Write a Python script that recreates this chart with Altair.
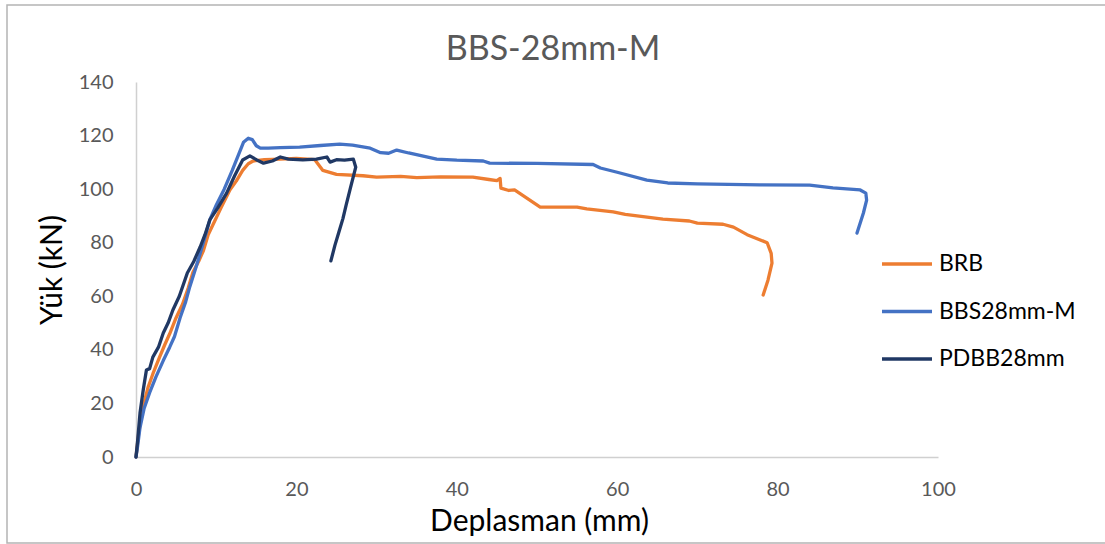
import altair as alt
import pandas as pd

brb_x = [0, 0.3, 0.5, 0.9, 1.5, 2.1, 2.9, 3.6, 4.2, 5.0, 5.8, 6.5, 7.1, 7.8, 8.4, 9.0, 9.8, 10.6, 11.7, 12.5,
         13.3, 14.0, 14.6, 16, 18, 20, 22.3, 23.3, 25, 28.3, 30, 33, 35, 38, 42, 44, 45, 45.4, 45.5, 46.5,
         47.2, 50.4, 55, 56.2, 59.5, 61, 65.7, 69, 70, 73.2, 74.5, 76.2, 78.7, 79.2, 79.3, 78.8, 78.2]
brb_y = [0, 8, 12, 19, 26, 31, 37, 42, 46, 52, 57, 63, 69, 73, 77, 83, 88, 93, 99.7, 103,
         107, 109.5, 110.5, 111, 111.2, 111.5, 111, 107, 105.5, 105, 104.5, 104.8, 104.3, 104.6, 104.5, 103.6, 103.2, 104, 100.4, 99.5,
         99.7, 93.3, 93.3, 92.6, 91.5, 90.6, 88.8, 88.1, 87.3, 86.9, 85.8, 83, 80, 76, 72.4, 66, 60.5]

bbs_x = [0, 0.2, 0.5, 1.0, 1.7, 2.5, 3.4, 4.2, 4.8, 5.5, 6.2, 6.7, 7.5, 8.3, 9.2, 10.0, 11.0, 12.0, 12.8, 13.4,
         14.0, 14.5, 15.0, 15.5, 16.5, 18, 20.4, 23, 25.4, 27, 29.2, 30.5, 31.5, 32.5, 34, 37.5, 40, 43.3, 44.1, 50,
         57, 57.9, 60, 63.7, 66.3, 70, 77.8, 84, 86.9, 90.3, 91.0, 91.1, 90.7, 89.9]
bbs_y = [0, 4, 11, 18, 24, 30, 36, 41, 45, 52, 58, 63.5, 71, 79, 88.5, 94, 100, 107, 113, 117.5,
         119, 118.5, 116.2, 115.3, 115.3, 115.5, 115.7, 116.3, 116.8, 116.4, 115.3, 113.6, 113.4, 114.6, 113.5, 111.2, 110.8, 110.5, 109.7, 109.6,
         109.2, 107.9, 106.3, 103.4, 102.3, 102, 101.6, 101.5, 100.5, 99.7, 98.5, 95.9, 91.1, 83.6]

pdbb_x = [0, 0.2, 0.5, 0.9, 1.3, 1.7, 2.1, 2.8, 3.4, 4.0, 4.6, 5.4, 6.4, 7.2, 8.0, 8.6, 9.2, 10.2, 11.3, 12.3,
          13.3, 14.2, 15.0, 15.9, 17, 18, 19, 20.8, 22.5, 23.8, 24.2, 25, 26, 27.1, 27.4, 26.7, 26.2, 25.8, 25.3, 24.8, 24.3]
pdbb_y = [0, 6, 16.4, 25, 32.5, 33, 37.3, 41, 46.3, 50, 54.9, 60, 68.7, 73, 78.4, 83, 88.5, 93, 98.5, 105,
          110.9, 112.4, 111, 109.7, 110.5, 112, 111.2, 110.9, 111.2, 112, 110.1, 111, 110.8, 111.2, 108.2, 100, 94, 89, 84, 79, 73.2]

series = ["BRB", "BBS28mm-M", "PDBB28mm"]
colors = ["#ED7D31", "#4472C4", "#203864"]
chart_title = "BBS-28mm-M"

rows = []
for name, xs, ys in [(series[0], brb_x, brb_y), (series[1], bbs_x, bbs_y), (series[2], pdbb_x, pdbb_y)]:
    for i, (a, b) in enumerate(zip(xs, ys)):
        rows.append({"s": name, "x": a, "y": b, "i": i})
df = pd.DataFrame(rows)

FONT = "Lato"

color = alt.Color(
    "s:N",
    scale=alt.Scale(domain=series, range=colors),
    legend=alt.Legend(
        title=None, orient="none", legendX=744, legendY=155,
        symbolType="stroke", symbolSize=2500, symbolStrokeWidth=3.5,
        labelFontSize=23, labelColor="#000000", labelFont=FONT,
        rowPadding=8.5, labelOffset=5,
    ),
)

xenc = alt.X(
    "x:Q",
    scale=alt.Scale(domain=[0, 100], nice=False),
    axis=alt.Axis(
        values=[0, 20, 40, 60, 80, 100], grid=False, ticks=False, tickSize=0,
        domainColor="#d0d0d0", domainWidth=1.5, labelFlush=False,
        labelFontSize=20, labelColor="#595959", labelFont=FONT, labelPadding=22,
        title="Deplasman (mm)", titleFontSize=30, titleFont=FONT, titleFontWeight="normal",
        titleColor="#000000", titleX=403, titleY=64, titleBaseline="middle",
    ),
)
yenc = alt.Y(
    "y:Q",
    scale=alt.Scale(domain=[0, 140], nice=False),
    axis=alt.Axis(
        values=[0, 20, 40, 60, 80, 100, 120, 140], grid=False, ticks=False, tickSize=0,
        domainColor="#d0d0d0", domainWidth=1.5, labelFlush=False,
        labelFontSize=20, labelColor="#595959", labelFont=FONT, labelPadding=23,
        title="Yük (kN)", titleFontSize=30, titleFont=FONT, titleFontWeight="normal",
        titleColor="#000000", titleX=-84, titleY=187.5, titleAngle=-90,
        titleBaseline="middle", titleAlign="center",
    ),
)

frame = alt.Chart(pd.DataFrame({"k": [0]})).mark_rect(
    fill=None, fillOpacity=0, stroke="#b4b4b4", strokeWidth=1.5
).encode(
    x=alt.value(-129), x2=alt.value(975), y=alt.value(-77), y2=alt.value(461)
)

title_mark = alt.Chart(pd.DataFrame({"t": [chart_title]})).mark_text(
    font=FONT, fontSize=34, color="#595959", align="center", baseline="middle"
).encode(
    text="t:N", x=alt.value(417), y=alt.value(-32)
)

layers = [frame, title_mark]
for name in series:
    layers.append(
        alt.Chart(df)
        .transform_filter(alt.datum.s == name)
        .mark_line(strokeWidth=3.3, strokeCap="round", strokeJoin="round")
        .encode(x=xenc, y=yenc, color=color, order=alt.Order("i:Q"))
    )

chart = (
    alt.layer(*layers)
    .properties(
        width=802, height=375,
        autosize=alt.AutoSizeParams(type="none"),
        padding={"left": 136, "top": 82, "right": 167, "bottom": 87},
        background="#ffffff",
    )
    .configure_view(stroke=None)
)

chart.save("out.html", embed_options={"renderer": "svg", "actions": False})
